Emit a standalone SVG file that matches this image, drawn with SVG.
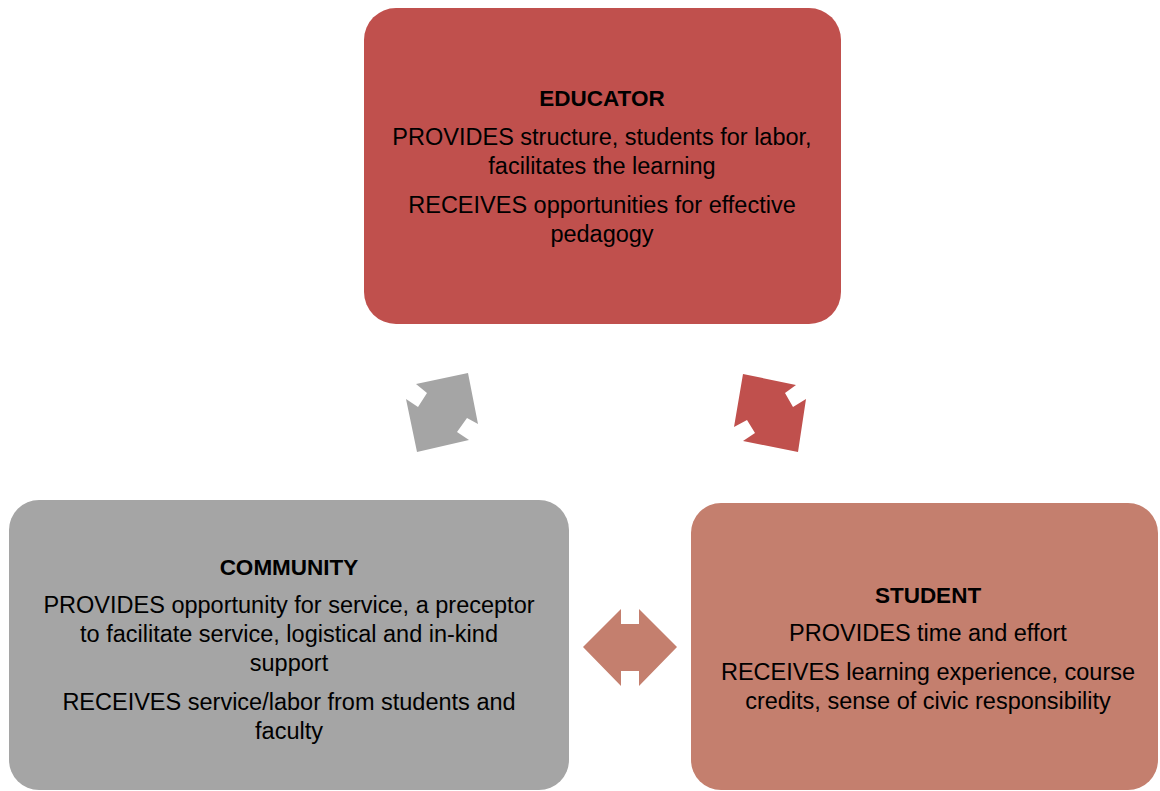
<svg xmlns="http://www.w3.org/2000/svg" width="1160" height="791" viewBox="0 0 1160 791">
<style>
text{font-family:"Liberation Sans",Arial,sans-serif;font-size:23.5px;fill:#000;text-anchor:middle}
.t{font-weight:bold;font-size:22.5px}
</style>
<rect width="1160" height="791" fill="#fff"/>
<g id="educator">
<rect x="364" y="8" width="477" height="316" rx="32" fill="#C0504D"/>
<text class="t" x="602" y="106">EDUCATOR</text>
<text x="602" y="145">PROVIDES structure, students for labor,</text>
<text x="602" y="174">facilitates the learning</text>
<text x="602" y="213">RECEIVES opportunities for effective</text>
<text x="602" y="242">pedagogy</text>
</g>
<g id="community">
<rect x="9" y="500" width="560" height="290" rx="30" fill="#A5A5A5"/>
<text class="t" x="289" y="575">COMMUNITY</text>
<text x="289" y="613">PROVIDES opportunity for service, a preceptor</text>
<text x="289" y="642">to facilitate service, logistical and in-kind</text>
<text x="289" y="671">support</text>
<text x="289" y="710">RECEIVES service/labor from students and</text>
<text x="289" y="739">faculty</text>
</g>
<g id="student">
<rect x="691" y="503" width="467" height="287" rx="30" fill="#C47F6E"/>
<text class="t" x="928" y="603">STUDENT</text>
<text x="928" y="641">PROVIDES time and effort</text>
<text x="928" y="680">RECEIVES learning experience, course</text>
<text x="928" y="709">credits, sense of civic responsibility</text>
</g>
<g id="connectors">
<polygon fill="#A5A5A5" points="468,373 478,424 467,418 457,432 469,440 417,452 406,399 418,407 427,393 416,384"/>
<polygon fill="#C0504D" points="743,374 796,385 785,393 793,407 806,399 798,452 743,441 755,433 747,420 734,427"/>
<polygon fill="#C47F6E" points="583,647 621,609 621,624 639,624 639,609 677,647 639,686 639,671 621,671 621,686"/>
</g>
</svg>
